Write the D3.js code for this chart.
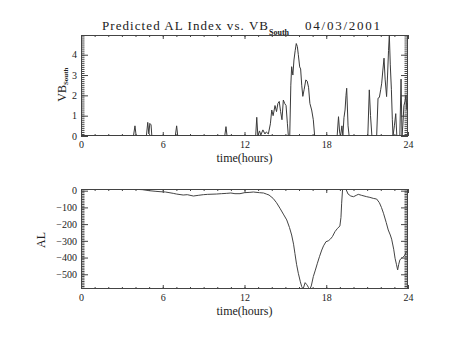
<!DOCTYPE html>
<html>
<head>
<meta charset="utf-8">
<script src="https://cdn.jsdelivr.net/npm/d3@7"></script>
<style>
  html, body { margin: 0; padding: 0; background: #fff; }
  svg { display: block; }
  text { font-family: "Liberation Serif", "DejaVu Serif", serif; fill: #222; }
</style>
</head>
<body>
<svg id="chart" width="454" height="341"></svg>
<script>
// Southward IMF coupling (VB_South) vs. time, 04/03/2001
const vbTime = [0, 3.85, 3.96, 4.05, 4.8, 4.9, 4.98, 5.05, 5.14, 5.2, 6.92, 7.02, 7.1,
  10.55, 10.64, 10.72, 12.82, 12.9, 12.98, 13.1, 13.2, 13.35, 13.5, 13.6, 13.75, 13.9,
  14.0, 14.1, 14.24, 14.35, 14.45, 14.55, 14.65, 14.75, 14.85, 14.95, 15.05, 15.15, 15.22,
  15.32, 15.4, 15.46, 15.55, 15.63, 15.72, 15.8, 15.88, 15.95, 16.05, 16.12, 16.2, 16.28,
  16.38, 16.5, 16.6, 16.7, 16.8, 16.93, 17.05, 17.15, 18.8, 18.9, 18.98, 19.05, 19.15,
  19.22, 19.3, 19.38, 19.45, 19.5, 19.6, 19.68, 21.05, 21.16, 21.25, 21.35, 21.7, 21.8,
  21.9, 22.0, 22.07, 22.15, 22.24, 22.32, 22.43, 22.5, 22.57, 22.63, 22.7, 22.78, 22.85,
  22.9, 23.0, 23.1, 23.18, 23.4, 23.49, 23.56, 23.62, 23.7, 23.78, 23.85, 23.92, 23.97, 24];
const vbValue = [0, 0, 0.5, 0, 0, 0.67, 0.1, 0.62, 0.55, 0, 0, 0.5, 0,
  0, 0.46, 0, 0, 0.92, 0, 0.25, 0.05, 0.3, 0.1, 0.2, 0.1, 0.6,
  1.28, 1.0, 1.5, 1.2, 1.6, 1.7, 1.2, 0.8, 1.77, 1.6, 1.5, 0.6, 0,
  0, 2.5, 3.41, 3.0, 3.74, 4.2, 4.55, 4.4, 4.0, 3.4, 3.3, 2.5, 1.95,
  2.3, 2.76, 2.7, 2.4, 1.6, 1.28, 0.8, 0, 0, 0.95, 0.2, 0, 0.5,
  0, 0.9, 1.28, 2.0, 2.35, 0.5, 0, 0, 2.27, 1.0, 0, 0, 1.86,
  1.9, 2.3, 2.6, 3.2, 3.83, 2.8, 1.94, 3.0, 4.2, 4.97, 3.5, 2.3, 0.8,
  0, 0.5, 1.1, 0, 0, 2.8, 0, 0.5, 1.5, 1.7, 2.0, 1.3, 1.6, 1.4];

// Predicted AL index (nT)
const alTime = [0, 1, 2, 3, 4, 4.5, 5, 5.5, 5.8, 6.2, 6.77, 7.0, 7.5, 7.8, 8.25, 8.6, 8.98,
  9.3, 9.96, 10.3, 10.7, 11.0, 11.3, 11.67, 12.0, 12.4, 12.65, 13.1, 13.4, 13.6, 13.8, 14.1,
  14.35, 14.6, 14.85, 15.1, 15.3, 15.46, 15.6, 15.7, 15.82, 15.95, 16.1, 16.2, 16.3, 16.45,
  16.55, 16.6, 16.7, 16.8, 16.9, 17.05, 17.2, 17.35, 17.5, 17.67, 17.8, 17.98, 18.15, 18.3,
  18.45, 18.64, 18.8, 19.0, 19.08, 19.13, 19.2, 19.35, 19.45, 19.6, 19.8, 20.0, 20.2, 20.35,
  20.6, 20.97, 21.2, 21.45, 21.7, 21.9, 22.05, 22.2, 22.4, 22.55, 22.7, 22.8, 22.95, 23.05,
  23.15, 23.24, 23.32, 23.4, 23.5, 23.6, 23.7, 23.78, 23.86, 23.95];
const alValue = [8, 8, 8, 8, 8, 6, 0, -4, -6, -8, -16, -20, -26, -24, -32, -28, -24,
  -22, -20, -18, -16, -14, -18, -18, -12, -10, -8, -12, -14, -20, -26, -46,
  -72, -105, -140, -175, -220, -265, -320, -375, -440, -494, -545, -574, -588, -550,
  -560, -565, -580, -588, -570, -514, -475, -434, -395, -355, -330, -305, -300, -290,
  -275, -245, -228, -211, -160, -75, 10, 10, 8, -20, -32, -36, -28, -22,
  -28, -36, -40, -46, -50, -72, -100, -135, -190, -235, -265, -290, -350, -404,
  -440, -474, -440, -415, -405, -400, -392, -385, -365, -370];

const xMajor = [0, 6, 12, 18, 24];
const xMinor = d3.range(0, 24.01, 1);
const vbMajor = [0, 1, 2, 3, 4];
const alMajor = [0, -100, -200, -300, -400, -500];

const svg = d3.select("#chart");
const left = 81, right = 408;

function panel(cfg) {
  const x = d3.scaleLinear().domain([0, 24]).range([left, right]);
  const y = d3.scaleLinear().domain(cfg.yDomain).range([cfg.bottom, cfg.top]);
  const g = svg.append("g");
  const h = cfg.bottom - cfg.top, w = right - left;

  const clipId = "clip" + cfg.id;
  svg.append("clipPath").attr("id", clipId).append("rect")
    .attr("x", left).attr("y", cfg.top).attr("width", w).attr("height", h);

  // inward-pointing ticks on all four sides
  const tickStyle = sel => {
    sel.select(".domain").remove();
    sel.selectAll("line").attr("stroke", "#444").attr("stroke-width", 1);
    sel.selectAll("text").attr("fill", "#222");
  };
  g.append("g").attr("transform", `translate(0,${cfg.bottom})`)
    .call(d3.axisBottom(x).tickValues(xMinor).tickSize(-2).tickFormat("")).call(tickStyle);
  g.append("g").attr("transform", `translate(0,${cfg.bottom})`)
    .call(d3.axisBottom(x).tickValues(xMajor).tickSize(-4).tickPadding(5).tickFormat(d3.format("d")))
    .call(tickStyle)
    .selectAll("text").style("font-size", "10px");
  g.append("g").attr("transform", `translate(0,${cfg.top})`)
    .call(d3.axisTop(x).tickValues(xMinor).tickSize(-2).tickFormat("")).call(tickStyle);
  g.append("g").attr("transform", `translate(0,${cfg.top})`)
    .call(d3.axisTop(x).tickValues(xMajor).tickSize(-4).tickFormat("")).call(tickStyle);

  g.append("g").attr("transform", `translate(${left},0)`)
    .call(d3.axisLeft(y).tickValues(cfg.yMinor).tickSize(-3.5).tickFormat("")).call(tickStyle);
  g.append("g").attr("transform", `translate(${left},0)`)
    .call(d3.axisLeft(y).tickValues(cfg.yMajor).tickSize(-7).tickPadding(4).tickFormat(d3.format("d")))
    .call(tickStyle)
    .selectAll("text").style("font-size", "10px");
  g.append("g").attr("transform", `translate(${right},0)`)
    .call(d3.axisRight(y).tickValues(cfg.yMinor).tickSize(-3.5).tickFormat("")).call(tickStyle);
  g.append("g").attr("transform", `translate(${right},0)`)
    .call(d3.axisRight(y).tickValues(cfg.yMajor).tickSize(-7).tickFormat("")).call(tickStyle);

  // frame
  g.append("rect").attr("x", left + 0.5).attr("y", cfg.top + 0.5)
    .attr("width", w - 1).attr("height", h - 1)
    .attr("fill", "none").attr("stroke", "#444").attr("stroke-width", 1);

  // data curve
  const line = d3.line().x(d => x(d[0])).y(d => y(d[1]));
  g.append("path")
    .datum(d3.zip(cfg.t, cfg.v))
    .attr("clip-path", `url(#${clipId})`)
    .attr("d", line)
    .attr("fill", "none")
    .attr("stroke", cfg.stroke)
    .attr("stroke-width", 1);

  // x-axis title
  svg.append("text").attr("x", (left + right) / 2).attr("y", cfg.bottom + 26)
    .attr("text-anchor", "middle").style("font-size", "12px").text("time(hours)");
  return { x, y };
}

panel({
  id: "vb", top: 35, bottom: 136, yDomain: [0, 4.97],
  yMajor: vbMajor, yMinor: d3.range(0, 4.97, 0.1),
  t: vbTime, v: vbValue, stroke: "#3a3a3a"
});
panel({
  id: "al", top: 189, bottom: 289, yDomain: [-588, 10],
  yMajor: alMajor, yMinor: d3.range(-580, 10, 10),
  t: alTime, v: alValue, stroke: "#444"
});

// title
svg.append("text").attr("x", 102).attr("y", 29.5).style("font-size", "13px")
  .attr("textLength", 166).attr("lengthAdjust", "spacing")
  .text("Predicted AL Index vs. VB");
svg.append("text").attr("x", 269).attr("y", 34.5).style("font-size", "8px")
  .style("font-weight", "bold").text("South");
svg.append("text").attr("x", 305).attr("y", 29.5).style("font-size", "13px")
  .attr("textLength", 75).attr("lengthAdjust", "spacing").text("04/03/2001");

// y-axis titles
const yl = svg.append("text").attr("transform", "translate(65.5,101.7) rotate(-90)")
  .style("font-size", "12px");
yl.append("tspan").text("VB");
yl.append("tspan").attr("dy", 2.5).style("font-size", "7px").style("font-weight", "bold").text("South");

svg.append("text").attr("transform", "translate(45,240) rotate(-90)")
  .attr("text-anchor", "middle").style("font-size", "12px").text("AL");
</script>
</body>
</html>
